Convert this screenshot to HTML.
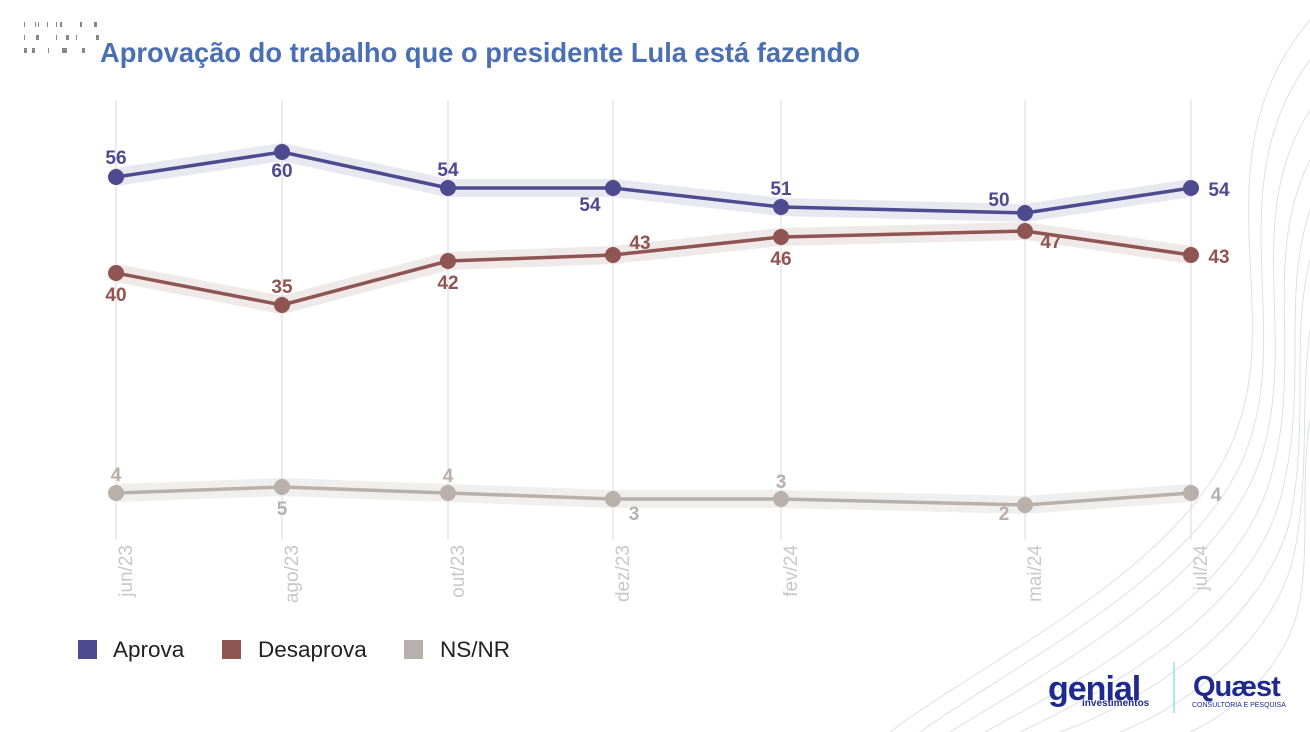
<!DOCTYPE html>
<html><head><meta charset="utf-8"><style>
body{margin:0;background:#fff;}
svg{display:block;font-family:"Liberation Sans",sans-serif;}
</style></head><body>
<svg width="1310" height="732" viewBox="0 0 1310 732">
<g fill="none" stroke="#dde0e4" stroke-width="1">
<path d="M1310 20 C1200 150 1280 300 1240 420 C1200 560 1000 650 890 732"/>
<path d="M1310 60 C1220 180 1290 320 1250 440 C1210 570 1020 660 920 732"/>
<path d="M1310 110 C1240 220 1300 340 1260 460 C1220 580 1050 670 950 732"/>
<path d="M1310 160 C1260 260 1305 360 1270 480 C1235 600 1080 680 985 732"/>
<path d="M1310 210 C1280 300 1310 390 1280 500 C1250 610 1110 690 1020 732"/>
<path d="M1310 260 C1290 340 1310 420 1290 520 C1265 620 1150 700 1060 732"/>
<path d="M1310 330 C1300 400 1310 470 1295 550 C1280 630 1200 700 1120 732"/>
<path d="M1310 420 C1300 480 1310 540 1300 600 C1290 660 1240 710 1190 732"/>
</g>
<g fill="#888">
<rect x="24" y="22" width="1" height="5"/><rect x="35" y="22" width="1" height="5"/><rect x="38" y="22" width="1" height="5"/><rect x="47" y="22" width="1" height="5"/><rect x="56" y="22" width="1" height="5"/><rect x="60" y="22" width="2" height="5"/><rect x="80" y="22" width="2" height="5"/><rect x="94" y="22" width="3" height="5"/>
<rect x="24" y="35" width="1" height="5"/><rect x="36" y="35" width="3" height="5"/><rect x="56" y="35" width="1" height="5"/><rect x="66" y="35" width="3" height="5"/><rect x="76" y="35" width="1" height="5"/><rect x="96" y="35" width="3" height="5"/>
<rect x="24" y="48" width="3" height="5"/><rect x="32" y="48" width="3" height="5"/><rect x="48" y="48" width="1" height="5"/><rect x="62" y="48" width="5" height="5"/><rect x="82" y="48" width="3" height="5"/>
</g>
<text x="100" y="62" font-size="27.3" font-weight="bold" fill="#4a6fb5">Aprovação do trabalho que o presidente Lula está fazendo</text>
<g stroke="#e6e6e6" stroke-width="1.5">
<line x1="116" y1="100" x2="116" y2="540"/><line x1="282" y1="100" x2="282" y2="540"/><line x1="448" y1="100" x2="448" y2="540"/><line x1="613" y1="100" x2="613" y2="540"/><line x1="781" y1="100" x2="781" y2="540"/><line x1="1025" y1="100" x2="1025" y2="540"/><line x1="1191" y1="100" x2="1191" y2="540"/>
</g>
<g fill="none" stroke-linejoin="round" stroke-width="18" stroke-opacity="0.13">
<polyline stroke="#4f4a8f" points="116,177 282,152 448,188 613,188 781,207 1025,213 1191,188"/>
<polyline stroke="#8e5552" points="116,273 282,305 448,261 613,255 781,237 1025,231 1191,255"/>
<polyline stroke="#b8b0ab" stroke-opacity="0.2" points="116,493 282,487 448,493 613,499 781,499 1025,505 1191,493"/>
</g>
<g fill="none" stroke-width="3.5" stroke-linejoin="round">
<polyline stroke="#4f4a8f" points="116,177 282,152 448,188 613,188 781,207 1025,213 1191,188"/>
<polyline stroke="#8e5552" points="116,273 282,305 448,261 613,255 781,237 1025,231 1191,255"/>
<polyline stroke="#b8b0ab" points="116,493 282,487 448,493 613,499 781,499 1025,505 1191,493"/>
</g>
<g fill="#4f4a8f"><circle cx="116" cy="177" r="8"/><circle cx="282" cy="152" r="8"/><circle cx="448" cy="188" r="8"/><circle cx="613" cy="188" r="8"/><circle cx="781" cy="207" r="8"/><circle cx="1025" cy="213" r="8"/><circle cx="1191" cy="188" r="8"/></g>
<g fill="#8e5552"><circle cx="116" cy="273" r="8"/><circle cx="282" cy="305" r="8"/><circle cx="448" cy="261" r="8"/><circle cx="613" cy="255" r="8"/><circle cx="781" cy="237" r="8"/><circle cx="1025" cy="231" r="8"/><circle cx="1191" cy="255" r="8"/></g>
<g fill="#b8b0ab"><circle cx="116" cy="493" r="8"/><circle cx="282" cy="487" r="8"/><circle cx="448" cy="493" r="8"/><circle cx="613" cy="499" r="8"/><circle cx="781" cy="499" r="8"/><circle cx="1025" cy="505" r="8"/><circle cx="1191" cy="493" r="8"/></g>
<g font-size="19" font-weight="bold" text-anchor="middle" fill="#4f4a8f">
<text x="116" y="164">56</text><text x="282" y="177">60</text><text x="448" y="176">54</text><text x="590" y="211">54</text><text x="781" y="195">51</text><text x="999" y="206">50</text><text x="1219" y="196">54</text>
</g>
<g font-size="19" font-weight="bold" text-anchor="middle" fill="#8e5552">
<text x="116" y="301">40</text><text x="282" y="293">35</text><text x="448" y="289">42</text><text x="640" y="249">43</text><text x="781" y="265">46</text><text x="1051" y="248">47</text><text x="1219" y="263">43</text>
</g>
<g font-size="19" font-weight="bold" text-anchor="middle" fill="#b8b0ab">
<text x="116" y="481">4</text><text x="282" y="515">5</text><text x="448" y="482">4</text><text x="634" y="520">3</text><text x="781" y="488">3</text><text x="1004" y="520">2</text><text x="1216" y="501">4</text>
</g>
<g font-size="19" fill="#c8c8c8" text-anchor="end">
<text transform="translate(132,545) rotate(-90)">jun/23</text>
<text transform="translate(298,545) rotate(-90)">ago/23</text>
<text transform="translate(464,545) rotate(-90)">out/23</text>
<text transform="translate(629,545) rotate(-90)">dez/23</text>
<text transform="translate(797,545) rotate(-90)">fev/24</text>
<text transform="translate(1041,545) rotate(-90)">mai/24</text>
<text transform="translate(1207,545) rotate(-90)">jul/24</text>
</g>
<rect x="78" y="640" width="19" height="19" fill="#4f4a8f"/><text x="113" y="657" font-size="22.5" fill="#222">Aprova</text>
<rect x="222" y="640" width="19" height="19" fill="#8e5552"/><text x="258" y="657" font-size="22.5" fill="#222">Desaprova</text>
<rect x="404" y="640" width="19" height="19" fill="#b8b0ab"/><text x="440" y="657" font-size="22.5" fill="#222">NS/NR</text>
<text x="1048" y="700" font-size="34" fill="#1f2a8f" font-weight="bold" letter-spacing="-1">genial</text>
<text x="1082" y="706" font-size="10" fill="#1f2a8f" font-weight="bold">investimentos</text>
<line x1="1174" y1="662" x2="1174" y2="713" stroke="#8fe0ea" stroke-width="1.5"/>
<text x="1193" y="696" font-size="29" fill="#1f2a8f" font-weight="bold" letter-spacing="-1">Quæst</text>
<text x="1192" y="707" font-size="7" fill="#1f2a8f">CONSULTORIA E PESQUISA</text>
</svg>
</body></html>
